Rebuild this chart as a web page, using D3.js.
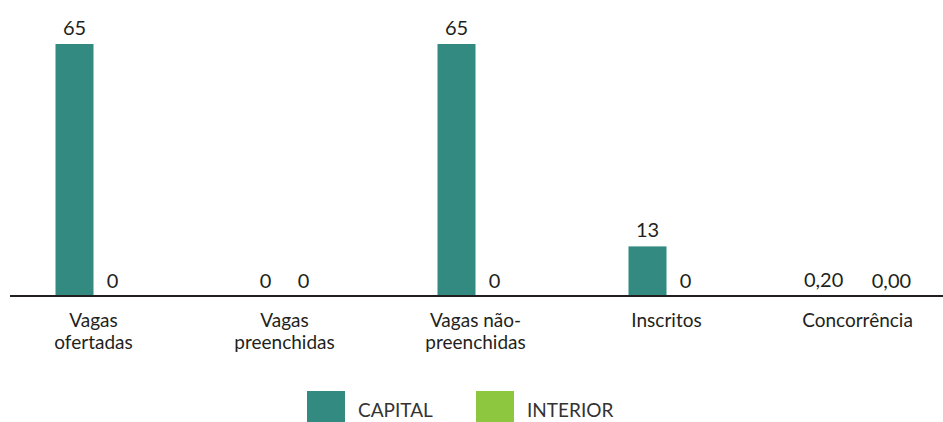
<!DOCTYPE html>
<html>
<head>
<meta charset="utf-8">
<script src="https://cdn.jsdelivr.net/npm/d3@7"></script>
<style>
	body { margin: 0; background: #fff; }
	text { font-family: Lato, "Noto Sans", sans-serif; fill: #231f20; }
</style>
</head>
<body>
<div id="chart"></div>
<script>

///////////////////////////////////////////////////////////////////////////
//////////////////////////////// Data /////////////////////////////////////
///////////////////////////////////////////////////////////////////////////

var categories = ["Vagas|ofertadas", "Vagas|preenchidas", "Vagas não-|preenchidas", "Inscritos", "Concorrência"];
var series = ["CAPITAL", "INTERIOR"];
var capitalValues = [65, 0, 65, 13, 0.20];
var interiorValues = [0, 0, 0, 0, 0.00];
var decimals = [0, 0, 0, 0, 2];
var colors = ["#338a80", "#8dc63f"];

///////////////////////////////////////////////////////////////////////////
//////////////////////////// Set up the SVG ///////////////////////////////
///////////////////////////////////////////////////////////////////////////

var width = 943,
	height = 422;

var fontSize = "20px";

var svg = d3.select("#chart")
	.append("svg")
	.attr("width", width)
	.attr("height", height);

var locale = d3.formatLocale({decimal: ",", thousands: ".", grouping: [3], currency: ["R$", ""]});

var data = categories.map(function(c, i) {
	return {
		category: c,
		values: [
			{series: series[0], value: capitalValues[i], dec: decimals[i]},
			{series: series[1], value: interiorValues[i], dec: decimals[i]}
		]
	};
});

//Scales
var x0 = d3.scaleBand()
	.domain(categories)
	.range([-2, 953])
	.padding(0);

var barWidth = 38;
var x1 = d3.scaleBand()
	.domain(series)
	.range([-barWidth, barWidth])
	.padding(0);

var y = d3.scaleLinear()
	.domain([0, 65])
	.range([297, 44]);

var color = d3.scaleOrdinal().domain(series).range(colors);

///////////////////////////////////////////////////////////////////////////
/////////////////////////////// Draw bars /////////////////////////////////
///////////////////////////////////////////////////////////////////////////

var groups = svg.selectAll(".group")
	.data(data)
	.enter().append("g")
	.attr("class", "group")
	.attr("transform", function(d) { return "translate(" + (x0(d.category) + x0.bandwidth()/2) + ",0)"; });

groups.selectAll("rect")
	.data(function(d) { return d.values; })
	.enter().append("rect")
	.attr("x", function(d) { return x1(d.series); })
	.attr("width", x1.bandwidth())
	.attr("y", function(d) { return y(d.value); })
	.attr("height", function(d) { return Math.max(0, y(0) - y(d.value)); })
	.style("fill", function(d) { return color(d.series); });

//Value labels
var valueLabels = groups.selectAll(".value-label")
	.data(function(d) { return d.values; })
	.enter().append("text")
	.attr("class", "value-label")
	.attr("x", function(d) { return x1(d.series) + x1.bandwidth()/2; })
	.attr("y", function(d) { return y(d.value) - 9; })
	.attr("text-anchor", "middle")
	.style("font-size", fontSize)
	.text(function(d) { return locale.format("." + d.dec + "f")(d.value); });

//Push wide labels apart so they do not touch
valueLabels.each(function(d) {
	var w = this.getComputedTextLength();
	if (w > 0.8 * x1.bandwidth()) {
		var dir = d.series === series[0] ? -1 : 1;
		d3.select(this).attr("x", x1(d.series) + x1.bandwidth()/2 + dir * w*0.38);
	}
});

///////////////////////////////////////////////////////////////////////////
/////////////////////////////// Axis line /////////////////////////////////
///////////////////////////////////////////////////////////////////////////

svg.append("line")
	.attr("x1", 10)
	.attr("x2", width)
	.attr("y1", 296)
	.attr("y2", 296)
	.style("stroke", "#231f20")
	.style("stroke-width", 2.2);

//Category labels, one text per line
groups.selectAll(".cat-label")
	.data(function(d) { return d.category.split("|"); })
	.enter().append("text")
	.attr("class", "cat-label")
	.attr("text-anchor", "middle")
	.attr("x", 0)
	.attr("y", function(d, i) { return 327 + i*22; })
	.style("font-size", "19px")
	.text(function(d) { return d; });

///////////////////////////////////////////////////////////////////////////
//////////////////////////////// Legend ///////////////////////////////////
///////////////////////////////////////////////////////////////////////////

var legendX = d3.scaleOrdinal().domain(series).range([307, 476]);

var legend = svg.selectAll(".legend")
	.data(series)
	.enter().append("g")
	.attr("class", "legend")
	.attr("transform", function(d) { return "translate(" + legendX(d) + ",391)"; });

legend.append("rect")
	.attr("width", 38)
	.attr("height", 31)
	.style("fill", function(d) { return color(d); });

legend.append("text")
	.attr("x", 51)
	.attr("y", 26)
	.style("font-size", "19px")
	.style("fill", "#333")
	.text(function(d) { return d; });

</script>
</body>
</html>
